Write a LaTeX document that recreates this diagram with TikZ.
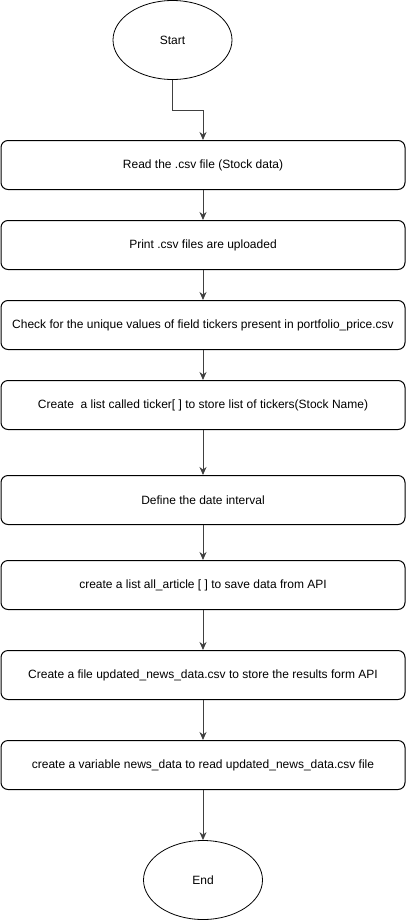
\documentclass[tikz,border=0pt]{standalone}
\usepackage{fontspec}
\setmainfont{Liberation Sans}
\usetikzlibrary{shapes.geometric,arrows.meta}
\begin{document}
\begin{tikzpicture}[x=1pt,y=-1pt,
  txt/.style={font=\fontsize{12pt}{14pt}\selectfont},
  proc/.style={txt,draw,line width=1pt,rounded corners=7pt,minimum width=404pt,minimum height=49pt,inner sep=0pt},
  term/.style={txt,draw,ellipse,line width=0.8pt,minimum width=119pt,minimum height=79pt,inner sep=0pt},
  conn/.style={-{Stealth[length=8pt,width=7pt]},line width=1pt,draw=black!75}]
\useasboundingbox (0,0) rectangle (406,921);
\node[term] (start) at (172.5,40) {Start};
\node[proc] (b1) at (203,165) {Read the .csv file (Stock data)};
\node[proc] (b2) at (203,245) {Print .csv files are uploaded};
\node[proc] (b3) at (203,325) {Check for the unique values of field tickers present in portfolio\_price.csv};
\node[proc] (b4) at (203,405) {Create\ \ a list called ticker[ ] to store list of tickers(Stock Name)};
\node[proc] (b5) at (203,500) {Define the date interval};
\node[proc] (b6) at (203,585) {create a list all\_article [ ] to save data from API};
\node[proc] (b7) at (203,675) {Create a file updated\_news\_data.csv to store the results form API};
\node[proc] (b8) at (203,765) {create a variable news\_data to read updated\_news\_data.csv file};
\node[term] (end) at (203,880) {End};
\coordinate (k) at (172.5,110);
\draw[conn] (start.south) -- (k) -| (b1.north);
\draw[conn] (b1) -- (b2);
\draw[conn] (b2) -- (b3);
\draw[conn] (b3) -- (b4);
\draw[conn] (b4) -- (b5);
\draw[conn] (b5) -- (b6);
\draw[conn] (b6) -- (b7);
\draw[conn] (b7) -- (b8);
\draw[conn] (b8) -- (end);
\end{tikzpicture}
\end{document}
